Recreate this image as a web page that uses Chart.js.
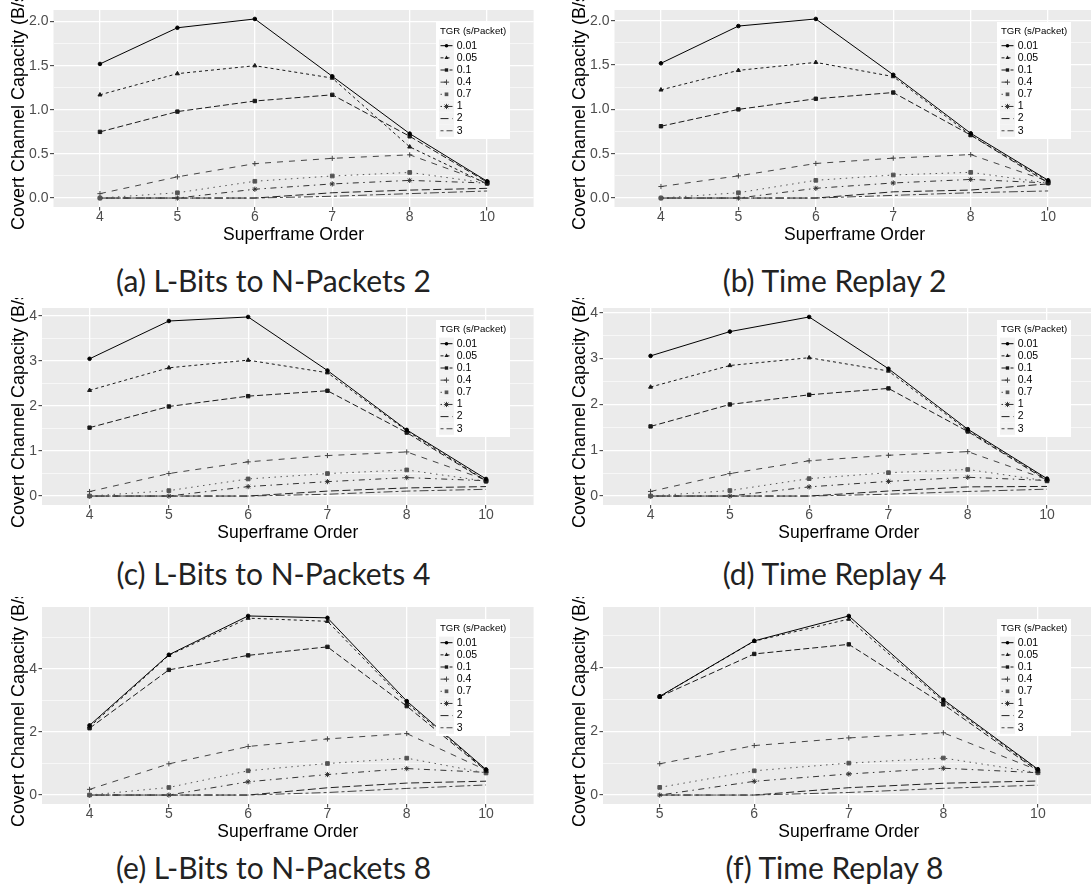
<!DOCTYPE html>
<html>
<head>
<meta charset="utf-8">
<script src="https://cdn.jsdelivr.net/npm/chart.js@4.4.1/dist/chart.umd.min.js"></script>
<style>
  html, body { margin: 0; padding: 0; background: #fff; }
  body { width: 1091px; height: 891px; position: relative; overflow: hidden; }
  .panel { position: absolute; width: 547px; height: 247px; }
  .cap { position: absolute; width: 547px; text-align: center; font-family: Lato, "Open Sans", sans-serif;
         font-size: 30px; line-height: 30px; font-weight: 400; color: #222; white-space: nowrap; }
</style>
</head>
<body>
<div class="panel" style="left:0;top:0"><canvas id="pa" width="547" height="247"></canvas></div>
<div class="panel" style="left:561px;top:0"><canvas id="pb" width="547" height="247"></canvas></div>
<div class="panel" style="left:0;top:298px"><canvas id="pc" width="547" height="247"></canvas></div>
<div class="panel" style="left:561px;top:298px"><canvas id="pd" width="547" height="247"></canvas></div>
<div class="panel" style="left:0;top:597px"><canvas id="pe" width="547" height="247"></canvas></div>
<div class="panel" style="left:561px;top:597px"><canvas id="pf" width="547" height="247"></canvas></div>
<div class="cap" style="left:0;top:265px">(a) L-Bits to N-Packets 2</div>
<div class="cap" style="left:561px;top:265px">(b) Time Replay 2</div>
<div class="cap" style="left:0;top:558px">(c) L-Bits to N-Packets 4</div>
<div class="cap" style="left:561px;top:558px">(d) Time Replay 4</div>
<div class="cap" style="left:0;top:852px">(e) L-Bits to N-Packets 8</div>
<div class="cap" style="left:561px;top:852px">(f) Time Replay 8</div>
<script>
// TGR levels (s/Packet), one row per level in each panel array
var tgrLevels = ['0.01', '0.05', '0.1', '0.4', '0.7', '1', '2', '3'];
var orders = ['4', '5', '6', '7', '8', '10'];
var ordersF = ['5', '6', '7', '8', '10'];

var lbits2 = [
  [1.52, 1.93, 2.03, 1.38, 0.73, 0.19],
  [1.17, 1.41, 1.50, 1.36, 0.58, 0.16],
  [0.75, 0.98, 1.10, 1.17, 0.70, 0.18],
  [0.05, 0.24, 0.39, 0.45, 0.49, 0.17],
  [0.00, 0.06, 0.19, 0.25, 0.29, 0.17],
  [0.00, 0.00, 0.10, 0.16, 0.20, 0.17],
  [0.00, 0.00, 0.00, 0.06, 0.09, 0.11],
  [0.00, 0.00, 0.00, 0.02, 0.05, 0.08]
];
var replay2 = [
  [1.52, 1.94, 2.02, 1.39, 0.73, 0.20],
  [1.22, 1.44, 1.53, 1.37, 0.71, 0.19],
  [0.81, 1.00, 1.12, 1.19, 0.71, 0.17],
  [0.13, 0.25, 0.39, 0.45, 0.49, 0.19],
  [0.00, 0.06, 0.20, 0.26, 0.29, 0.17],
  [0.00, 0.00, 0.11, 0.17, 0.21, 0.17],
  [0.00, 0.00, 0.00, 0.07, 0.09, 0.16],
  [0.00, 0.00, 0.00, 0.03, 0.06, 0.08]
];
var lbits4 = [
  [3.05, 3.89, 3.98, 2.79, 1.47, 0.38],
  [2.35, 2.85, 3.02, 2.74, 1.45, 0.34],
  [1.52, 1.99, 2.22, 2.34, 1.41, 0.33],
  [0.10, 0.50, 0.76, 0.90, 0.98, 0.36],
  [0.00, 0.12, 0.38, 0.50, 0.58, 0.33],
  [0.00, 0.00, 0.21, 0.32, 0.41, 0.34],
  [0.00, 0.00, 0.00, 0.11, 0.18, 0.21],
  [0.00, 0.00, 0.00, 0.04, 0.11, 0.15]
];
var replay4 = [
  [3.06, 3.59, 3.91, 2.78, 1.46, 0.38],
  [2.38, 2.85, 3.02, 2.73, 1.43, 0.36],
  [1.52, 2.00, 2.21, 2.35, 1.41, 0.34],
  [0.10, 0.49, 0.77, 0.89, 0.97, 0.36],
  [0.00, 0.12, 0.38, 0.51, 0.58, 0.33],
  [0.00, 0.00, 0.20, 0.32, 0.41, 0.34],
  [0.00, 0.00, 0.00, 0.11, 0.20, 0.21],
  [0.00, 0.00, 0.00, 0.04, 0.10, 0.15]
];
var lbits8 = [
  [2.21, 4.45, 5.68, 5.62, 2.98, 0.81],
  [2.16, 4.43, 5.61, 5.51, 2.92, 0.79],
  [2.12, 3.97, 4.43, 4.70, 2.82, 0.77],
  [0.18, 0.99, 1.54, 1.78, 1.95, 0.79],
  [0.00, 0.24, 0.77, 1.00, 1.17, 0.70],
  [0.00, 0.00, 0.42, 0.65, 0.84, 0.72],
  [0.00, 0.00, 0.00, 0.23, 0.38, 0.44],
  [0.00, 0.00, 0.00, 0.08, 0.21, 0.32]
];
var replay8 = [
  [3.09, 4.83, 5.61, 2.99, 0.81],
  [3.09, 4.82, 5.51, 2.94, 0.78],
  [3.08, 4.42, 4.72, 2.84, 0.75],
  [0.98, 1.55, 1.79, 1.95, 0.78],
  [0.24, 0.76, 1.00, 1.16, 0.70],
  [0.00, 0.43, 0.66, 0.84, 0.70],
  [0.00, 0.00, 0.23, 0.37, 0.44],
  [0.00, 0.00, 0.08, 0.21, 0.31]
];

// ggplot-ish line types / shapes per TGR level
var seriesStyle = [
  { color: '#000000', dash: [],                 shape: 'circle',   r: 1.8 },
  { color: '#1a1a1a', dash: [3, 3],             shape: 'triangle', r: 2.3 },
  { color: '#1a1a1a', dash: [6, 3],             shape: 'rect',     r: 2.4 },
  { color: '#444444', dash: [6, 6],             shape: 'cross',    r: 2.6 },
  { color: '#555555', dash: [1.5, 4.5],         shape: 'rect',     r: 2.6 },
  { color: '#333333', dash: [1.5, 4.5, 6, 4.5], shape: 'star',     r: 2.6 },
  { color: '#222222', dash: [8, 3.5],           shape: false,      r: 0 },
  { color: '#444444', dash: [3, 3, 9, 3],       shape: false,      r: 0 }
];

var FONT = '"Liberation Sans", Arial, sans-serif';
Chart.defaults.font.family = FONT;

function drawMarker(ctx, shape, x, y, r, color) {
  if (!shape) return;
  ctx.save();
  ctx.fillStyle = color;
  ctx.strokeStyle = color;
  ctx.lineWidth = 1;
  ctx.beginPath();
  if (shape === 'circle') {
    ctx.arc(x, y, r, 0, Math.PI * 2);
    ctx.fill();
  } else if (shape === 'triangle') {
    ctx.moveTo(x, y - r);
    ctx.lineTo(x + r * 0.866, y + r * 0.5);
    ctx.lineTo(x - r * 0.866, y + r * 0.5);
    ctx.closePath();
    ctx.fill();
  } else if (shape === 'rect') {
    var s = r * Math.SQRT1_2;
    ctx.fillRect(x - s, y - s, 2 * s, 2 * s);
  } else if (shape === 'cross' || shape === 'star') {
    ctx.moveTo(x - r, y); ctx.lineTo(x + r, y);
    ctx.moveTo(x, y - r); ctx.lineTo(x, y + r);
    if (shape === 'star') {
      var d = r * Math.SQRT1_2;
      ctx.moveTo(x - d, y - d); ctx.lineTo(x + d, y + d);
      ctx.moveTo(x - d, y + d); ctx.lineTo(x + d, y - d);
    }
    ctx.stroke();
  }
  ctx.restore();
}

var panelBg = {
  id: 'panelBg',
  beforeDraw: function (chart) {
    var a = chart.chartArea, ctx = chart.ctx;
    ctx.save();
    ctx.fillStyle = '#EBEBEB';
    ctx.fillRect(a.left, a.top, a.right - a.left, a.bottom - a.top);
    ctx.restore();
  }
};

var ggLegend = {
  id: 'ggLegend',
  afterDatasetsDraw: function (chart) {
    var a = chart.chartArea, ctx = chart.ctx;
    var x0 = a.right - 97.6, y0 = a.top + 12;
    ctx.save();
    ctx.fillStyle = '#fff';
    ctx.fillRect(x0, y0, 74, 117);
    ctx.fillStyle = '#000';
    ctx.font = '9.6px ' + FONT;
    ctx.textBaseline = 'alphabetic';
    ctx.fillText('TGR (s/Packet)', x0 + 4, y0 + 11.7);
    chart.data.datasets.forEach(function (ds, i) {
      var st = seriesStyle[i];
      var cy = y0 + 23.7 + i * 12.15;
      ctx.fillStyle = '#F2F2F2';
      ctx.fillRect(x0 + 3, cy - 6.07, 15, 12.15);
      ctx.strokeStyle = st.color;
      ctx.lineWidth = 1;
      ctx.setLineDash(st.dash);
      ctx.beginPath();
      ctx.moveTo(x0 + 4.5, cy);
      ctx.lineTo(x0 + 16.5, cy);
      ctx.stroke();
      ctx.setLineDash([]);
      drawMarker(ctx, st.shape, x0 + 10.5, cy, st.r, st.color);
      ctx.fillStyle = '#000';
      ctx.font = '10.5px ' + FONT;
      ctx.textBaseline = 'middle';
      ctx.fillText(ds.label, x0 + 20.7, cy);
    });
    ctx.restore();
  }
};

function makePanel(id, cats, rows, yStep, yDigits, yWidth) {
  var maxV = Math.max.apply(null, rows.map(function (r) { return Math.max.apply(null, r); }));
  var yMin = -0.05 * maxV, yMax = 1.05 * maxV;
  var yTicks = [];
  for (var k = 0; k * yStep / 2 <= yMax; k++) {
    yTicks.push({ value: k * yStep / 2, minor: k % 2 === 1 });
  }
  var datasets = rows.map(function (vals, i) {
    var st = seriesStyle[i];
    return {
      label: tgrLevels[i],
      data: vals.map(function (v, j) { return { x: j, y: v }; }),
      borderColor: st.color,
      borderWidth: 1,
      borderDash: st.dash,
      backgroundColor: st.color,
      pointStyle: st.shape,
      pointRadius: st.r,
      pointBackgroundColor: st.color,
      pointBorderColor: st.color,
      pointBorderWidth: 1,
      tension: 0
    };
  });
  var minorAware = function (major, minor) {
    return function (ctx) { return ctx.tick && ctx.tick.minor ? minor : major; };
  };
  new Chart(document.getElementById(id), {
    type: 'line',
    data: { datasets: datasets },
    plugins: [panelBg, ggLegend],
    options: {
      responsive: false,
      animation: false,
      events: [],
      layout: { padding: { top: 10, right: 13.4, bottom: 0, left: 0 } },
      plugins: { legend: { display: false }, tooltip: { enabled: false } },
      scales: {
        x: {
          type: 'linear',
          min: -0.6,
          max: cats.length - 0.4,
          afterBuildTicks: function (s) { s.ticks = cats.map(function (c, i) { return { value: i }; }); },
          afterFit: function (s) { s.height = 40; },
          border: { display: false },
          grid: { color: '#fff', lineWidth: 1.3, tickLength: 3.5, tickColor: '#333', tickWidth: 1 },
          ticks: {
            autoSkip: false, maxRotation: 0, padding: 0, color: '#4D4D4D',
            font: { size: 14, lineHeight: 1 },
            callback: function (v) { return cats[v]; }
          },
          title: {
            display: true, text: 'Superframe Order', color: '#000',
            font: { size: 17.5, lineHeight: 1 }, padding: { top: 0, bottom: 3 }
          }
        },
        y: {
          type: 'linear',
          min: yMin,
          max: yMax,
          afterBuildTicks: function (s) { s.ticks = yTicks.map(function (t) { return { value: t.value, minor: t.minor }; }); },
          afterFit: function (s) { s.width = yWidth; },
          border: { display: false },
          grid: {
            color: '#fff',
            lineWidth: minorAware(1.3, 0.6),
            tickLength: 3.5,
            tickColor: minorAware('#333', 'rgba(0,0,0,0)'),
            tickWidth: 1
          },
          ticks: {
            autoSkip: false, padding: 1.5, color: '#4D4D4D',
            font: { size: 14, lineHeight: 1 },
            callback: function (v, i, ticks) { return ticks[i].minor ? '' : v.toFixed(yDigits); }
          },
          title: {
            display: true, text: 'Covert Channel Capacity (B/s)', color: '#000',
            font: { size: 18, lineHeight: 1 }, padding: { top: 10, bottom: 0 }
          }
        }
      }
    }
  });
}

makePanel('pa', orders, lbits2, 0.5, 1, 53.5);
makePanel('pb', orders, replay2, 0.5, 1, 53.5);
makePanel('pc', orders, lbits4, 1, 0, 42);
makePanel('pd', orders, replay4, 1, 0, 42);
makePanel('pe', orders, lbits8, 2, 0, 42);
makePanel('pf', ordersF, replay8, 2, 0, 42);
</script>
</body>
</html>
